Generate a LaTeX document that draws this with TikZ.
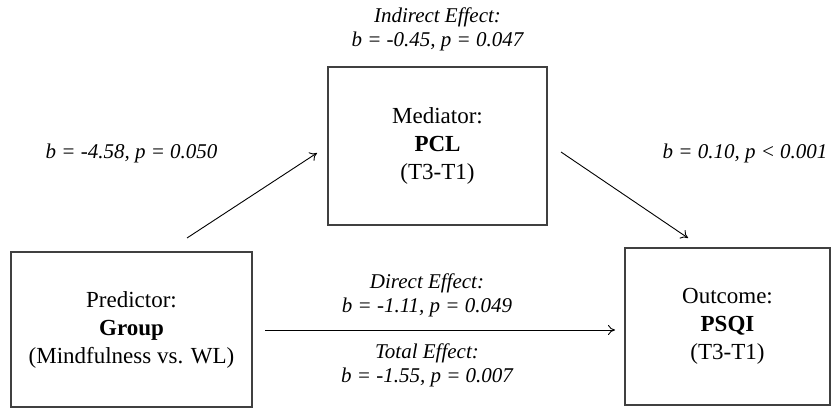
\documentclass[tikz,border=0pt]{standalone}
\usepackage{fontspec}
\setmainfont{Liberation Serif}
\usetikzlibrary{arrows.meta}
\begin{document}
\begin{tikzpicture}[x=1pt,y=-1pt,
  box/.style={draw=black!75,line width=1.1pt,inner sep=0pt,align=center,
    font=\fontsize{23}{28}\selectfont},
  lab/.style={align=center,font=\fontsize{21}{24}\selectfont\itshape,inner sep=0pt,anchor=base},
  arr/.style={-{To[length=7pt,width=10pt]},line width=0.9pt}]
\useasboundingbox (0,0) rectangle (834,409);
\node[box,minimum width=241pt,minimum height=155pt] (pred) at (131.5,329.5)
  {Predictor:\\\textbf{Group}\\(Mindfulness vs. WL)};
\node[box,minimum width=219pt,minimum height=158pt] (med) at (437.5,146)
  {Mediator:\\\textbf{PCL}\\(T3-T1)};
\node[box,minimum width=205pt,minimum height=157pt] (out) at (727.5,326.5)
  {Outcome:\\\textbf{PSQI}\\(T3-T1)};
\coordinate (a1) at (187,238);
\coordinate (a2) at (317,153);
\coordinate (b1) at (561,152);
\coordinate (b2) at (688,238);
\coordinate (c1) at (265,330);
\coordinate (c2) at (615,330);
\draw[arr] (a1) -- (a2);
\draw[arr] (b1) -- (b2);
\draw[arr] (c1) -- (c2);
\node[lab] (la) at (131.5,158) {b = -4.58, p = 0.050};
\node[lab] (lb) at (745,158) {b = 0.10, p < 0.001};
\node[lab] (li) at (437.5,47) {Indirect Effect:\\b = -0.45, p = 0.047};
\node[lab] (ld) at (427,312) {Direct Effect:\\b = -1.11, p = 0.049};
\node[lab] (lt) at (427,382) {Total Effect:\\b = -1.55, p = 0.007};
\end{tikzpicture}
\end{document}
